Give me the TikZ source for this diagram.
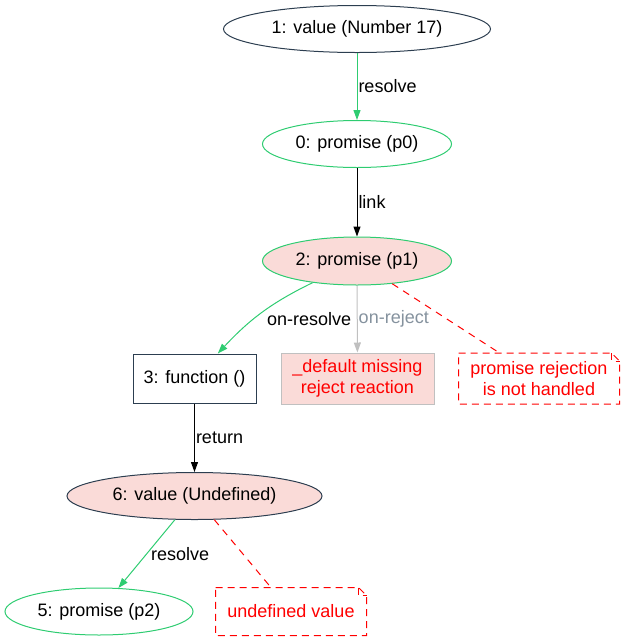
\documentclass[tikz,border=0pt]{standalone}
\usepackage{fontspec}
\setmainfont{Liberation Sans}
\usetikzlibrary{shapes.geometric, arrows.meta}
\definecolor{okgreen}{RGB}{46,204,113}
\definecolor{slate}{RGB}{44,62,80}
\definecolor{softpink}{RGB}{250,219,216}
\definecolor{silvergray}{RGB}{192,192,192}
\definecolor{labelgray}{RGB}{133,146,158}
\definecolor{warnred}{RGB}{255,0,0}

\begin{document}
\begin{tikzpicture}[x=1pt, y=-1pt, line width=1pt,
        font=\fontsize{18}{21}\selectfont,
        oval/.style={ellipse, draw, inner sep=0pt, minimum height=47pt},
        valnode/.style={oval, draw=slate},
        promnode/.style={oval, draw=okgreen},
        funcnode/.style={rectangle, draw=slate, minimum width=123pt, minimum height=49pt},
        warnbox/.style={rectangle, draw=silvergray, fill=softpink, text=warnred, align=center, minimum width=153pt, minimum height=51pt},
        notebox/.style={rectangle, text=warnred, align=center, minimum height=50pt},
        notedash/.style={draw=warnred, dash pattern=on 7pt off 5pt},
        arrowed/.style={-{Triangle[length=10pt,width=7pt]}},
        resolveedge/.style={arrowed, draw=okgreen},
        plainedge/.style={arrowed, draw=black},
        rejectedge/.style={arrowed, draw=silvergray},
        warnedge/.style={draw=warnred, dash pattern=on 7pt off 6pt},
        lbl/.style={fill=none, draw=none, inner sep=1pt, text=black}]
            \useasboundingbox (0,0) rectangle (624,641);
            \node[valnode, minimum width=267pt] (n1) at (357,29) {1: value (Number 17)};
            \node[promnode, minimum width=189pt] (n0) at (357,144) {0: promise (p0)};
            \node[promnode, fill=softpink, minimum width=189pt, minimum height=48pt] (n2) at (357,261) {2: promise (p1)};
            \node[funcnode] (n3) at (194.5,378.5) {3: function ()};
            \node[warnbox] (ndef) at (357.5,378.5) {\_default missing\\reject reaction};
            \node[notebox, minimum width=160pt] (nrej) at (539,378.5) {promise rejection\\is not handled};
            \node[valnode, fill=softpink, minimum width=255pt] (n6) at (194.5,496) {6: value (Undefined)};
            \node[promnode, minimum width=188pt] (n5) at (99,611.5) {5: promise (p2)};
            \node[notebox, minimum width=150pt, minimum height=47pt] (nund) at (291,611.5) {undefined value};
            \foreach \nn in {nrej, nund} {
                \draw[notedash] (\nn.north west) -- ([xshift=-8pt]\nn.north east) -- ([yshift=-8pt]\nn.north east)
                    -- (\nn.south east) -- (\nn.south west) -- cycle;
                \draw[notedash] ([xshift=-8pt]\nn.north east) -- ([xshift=-8pt,yshift=-8pt]\nn.north east) -- ([yshift=-8pt]\nn.north east);
            }
            \draw[resolveedge] (n1) -- node[lbl, right] {resolve} (n0);
            \draw[plainedge] (n0) -- node[lbl, right] {link} (n2);
            \draw[resolveedge] (n2) to[out=-154, in=47] node[lbl, pos=0.42, anchor=west, xshift=-3pt, yshift=-11pt] {on-resolve} (n3);
            \draw[rejectedge] (n2) -- node[lbl, right, text=labelgray] {on-reject} (ndef);
            \draw[warnedge] (n2) -- (nrej);
            \draw[plainedge] (n3) -- node[lbl, right] {return} (n6);
            \draw[resolveedge] (n6) -- node[lbl, right, xshift=3pt] {resolve} (n5);
            \draw[warnedge] (n6) -- (nund);
        \end{tikzpicture}
\end{document}
